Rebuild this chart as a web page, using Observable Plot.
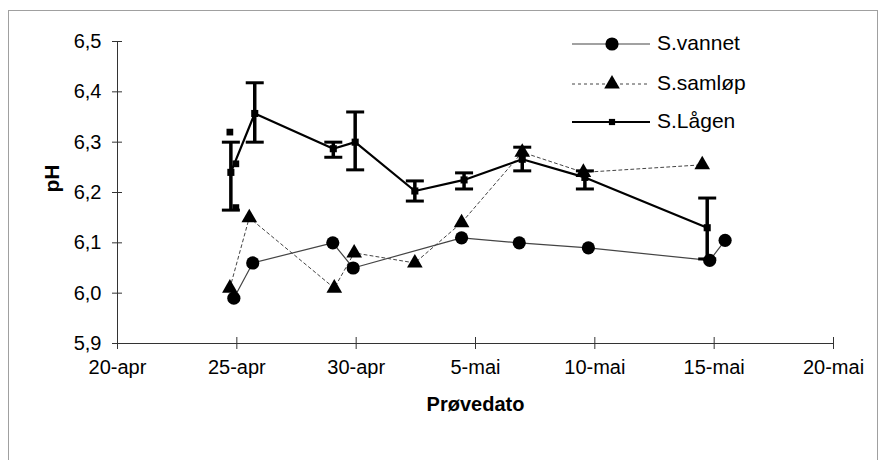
<!DOCTYPE html>
<html><head><meta charset="utf-8">
<script src="https://cdn.jsdelivr.net/npm/d3@7"></script>
<script src="https://cdn.jsdelivr.net/npm/@observablehq/plot@0.6"></script>
<style>
body{margin:0;background:#fff;}
#wrap{position:relative;width:892px;height:460px;overflow:hidden;font-family:"Liberation Sans",Arial,sans-serif;background:#fff;}
#border{position:absolute;left:8px;top:10px;width:870px;height:480px;border:1px solid #a0a0a0;box-sizing:border-box;}
#chart{position:absolute;left:0;top:0;}
#legend{position:absolute;left:0;top:0;}
</style></head><body>
<div id="wrap"><div id="border"></div><div id="chart"></div><svg id="legend" width="892" height="160"></svg></div>
<script>
// ---- data ----
const seriesNames = ["S.vannet", "S.samløp", "S.Lågen"];

const vannetDates = ["2000-04-24T21:00Z","2000-04-25T16:00Z","2000-04-29T00:30Z","2000-04-29T21:00Z","2000-05-04T10:00Z","2000-05-06T20:00Z","2000-05-09T17:30Z","2000-05-14T19:30Z","2000-05-15T11:00Z"];
const vannetPH    = [5.99, 6.06, 6.10, 6.05, 6.11, 6.10, 6.09, 6.065, 6.105];

const samlopDates = ["2000-04-24T17:00Z","2000-04-25T12:30Z","2000-04-29T02:00Z","2000-04-29T22:00Z","2000-05-02T11:00Z","2000-05-04T10:00Z","2000-05-06T23:00Z","2000-05-09T12:30Z","2000-05-14T12:00Z"];
const samlopPH    = [6.01, 6.15, 6.01, 6.08, 6.06, 6.14, 6.28, 6.24, 6.255];

const lagenDates = ["2000-04-24T18:00Z","2000-04-25T18:00Z","2000-04-29T01:00Z","2000-04-29T23:00Z","2000-05-02T11:00Z","2000-05-04T12:30Z","2000-05-06T23:00Z","2000-05-09T14:00Z","2000-05-14T17:00Z"];
const lagenPH    = [6.24, 6.357, 6.287, 6.30, 6.203, 6.225, 6.266, 6.23, 6.13];
const lagenLow   = [6.165, 6.30, 6.27, 6.245, 6.183, 6.207, 6.243, 6.207, 6.068];
const lagenHigh  = [6.30, 6.418, 6.30, 6.36, 6.223, 6.239, 6.29, 6.243, 6.189];

// isolated extra Lågen markers around 24-apr
const lagenExtraDates = ["2000-04-24T17:00Z","2000-04-24T23:00Z","2000-04-24T23:00Z"];
const lagenExtraPH    = [6.32, 6.257, 6.17];

const xTicks = ["2000-04-20","2000-04-25","2000-04-30","2000-05-05","2000-05-10","2000-05-15","2000-05-20"];
const xTickLabels = ["20-apr","25-apr","30-apr","5-mai","10-mai","15-mai","20-mai"];
const yTicks = [5.9, 6.0, 6.1, 6.2, 6.3, 6.4, 6.5];
const yTickLabels = ["5,9","6,0","6,1","6,2","6,3","6,4","6,5"];
const xLabel = "Prøvedato";
const yLabel = "pH";

// ---- tables ----
const vannet = vannetDates.map((d, i) => ({date: new Date(d), ph: vannetPH[i]}));
const samlop = samlopDates.map((d, i) => ({date: new Date(d), ph: samlopPH[i]}));
const lagen = lagenDates.map((d, i) => ({date: new Date(d), ph: lagenPH[i], lo: lagenLow[i], hi: lagenHigh[i]}));
const lagenExtra = lagenExtraDates.map((d, i) => ({date: new Date(d), ph: lagenExtraPH[i]}));
const xTickDates = xTicks.map(d => new Date(d + "T00:00Z"));

const capSymbol = {
  draw(ctx, size) { const w = Math.sqrt(size / Math.PI); ctx.moveTo(-w, 0); ctx.lineTo(w, 0); }
};

const font = "Liberation Sans, Arial, sans-serif";
const xDomain = [xTickDates[0], xTickDates[xTickDates.length - 1]];

const chart = Plot.plot({
  width: 892,
  height: 460,
  marginLeft: 117,
  marginRight: 59,
  marginTop: 41,
  marginBottom: 117,
  style: {fontFamily: font, background: "transparent", color: "#000"},
  x: {type: "utc", domain: xDomain},
  y: {domain: [5.9, 6.5]},
  marks: [
    // axis lines
    Plot.ruleX([xDomain[0]], {stroke: "#333", strokeWidth: 1}),
    Plot.ruleY([5.9], {stroke: "#333", strokeWidth: 1}),
    // ticks crossing the axes
    Plot.axisY({ticks: yTicks, tickSize: 10, dx: 5, text: null, label: null, stroke: "#333"}),
    Plot.axisY({ticks: yTicks, tickSize: 0, tickPadding: 16, fontSize: 20, label: null,
      tickFormat: (d) => yTickLabels[yTicks.indexOf(Math.round(d * 10) / 10)]}),
    Plot.axisX({ticks: xTickDates, tickSize: 12, dy: -6, text: null, label: null, stroke: "#333"}),
    Plot.axisX({ticks: xTickDates, tickSize: 0, tickPadding: 16, fontSize: 20, label: null,
      tickFormat: (d) => xTickLabels[xTickDates.findIndex(t => +t === +d)]}),
    // axis titles
    Plot.text([yLabel], {frameAnchor: "left", dx: -65, rotate: -90, fontSize: 21, fontWeight: "bold", text: d => d}),
    Plot.text([xLabel], {frameAnchor: "bottom", dy: 67, fontSize: 20, fontWeight: "bold", text: d => d}),
    // S.samløp
    Plot.line(samlop, {x: "date", y: "ph", stroke: "#444", strokeWidth: 1, strokeDasharray: "3,3"}),
    // S.vannet
    Plot.line(vannet, {x: "date", y: "ph", stroke: "#444", strokeWidth: 1.2}),
    // S.Lågen
    Plot.ruleX(lagen, {x: "date", y1: "lo", y2: "hi", stroke: "#000", strokeWidth: 3.5}),
    Plot.dot(lagen, {x: "date", y: "lo", symbol: capSymbol, r: 9, stroke: "#000", strokeWidth: 3, fill: "none"}),
    Plot.dot(lagen, {x: "date", y: "hi", symbol: capSymbol, r: 9, stroke: "#000", strokeWidth: 3, fill: "none"}),
    Plot.line(lagen, {x: "date", y: "ph", stroke: "#000", strokeWidth: 2.2}),
    Plot.dot(lagen, {x: "date", y: "ph", symbol: "square", r: 4, fill: "#000", stroke: "none"}),
    Plot.dot(lagenExtra, {x: "date", y: "ph", symbol: "square", r: 3.8, fill: "#000", stroke: "none"}),
    Plot.dot(vannet, {x: "date", y: "ph", symbol: "circle", r: 6.6, fill: "#000", stroke: "none"}),
    Plot.dot(samlop, {x: "date", y: "ph", symbol: "triangle", r: 5.8, fill: "#000", stroke: "none"})
  ]
});
document.getElementById("chart").appendChild(chart);

// ---- legend ----
const lg = d3.select("#legend");
const rows = [
  {name: seriesNames[0], y: 44, stroke: "#444", width: 1.2, dash: null, sym: d3.symbolCircle, size: Math.PI * 6.6 * 6.6},
  {name: seriesNames[1], y: 84, stroke: "#444", width: 1, dash: "3,3", sym: d3.symbolTriangle, size: Math.PI * 5.8 * 5.8},
  {name: seriesNames[2], y: 122, stroke: "#000", width: 2.2, dash: null, sym: d3.symbolSquare, size: Math.PI * 3.5 * 3.5}
];
rows.forEach(r => {
  lg.append("line").attr("x1", 572).attr("x2", 650).attr("y1", r.y).attr("y2", r.y)
    .attr("stroke", r.stroke).attr("stroke-width", r.width).attr("stroke-dasharray", r.dash);
  lg.append("path").attr("d", d3.symbol(r.sym, r.size)()).attr("transform", `translate(612,${r.y})`).attr("fill", "#000");
  lg.append("text").attr("x", 657).attr("y", r.y - 2).attr("dominant-baseline", "central")
    .attr("font-family", font).attr("font-size", 21).text(r.name);
});
</script>
</body></html>
